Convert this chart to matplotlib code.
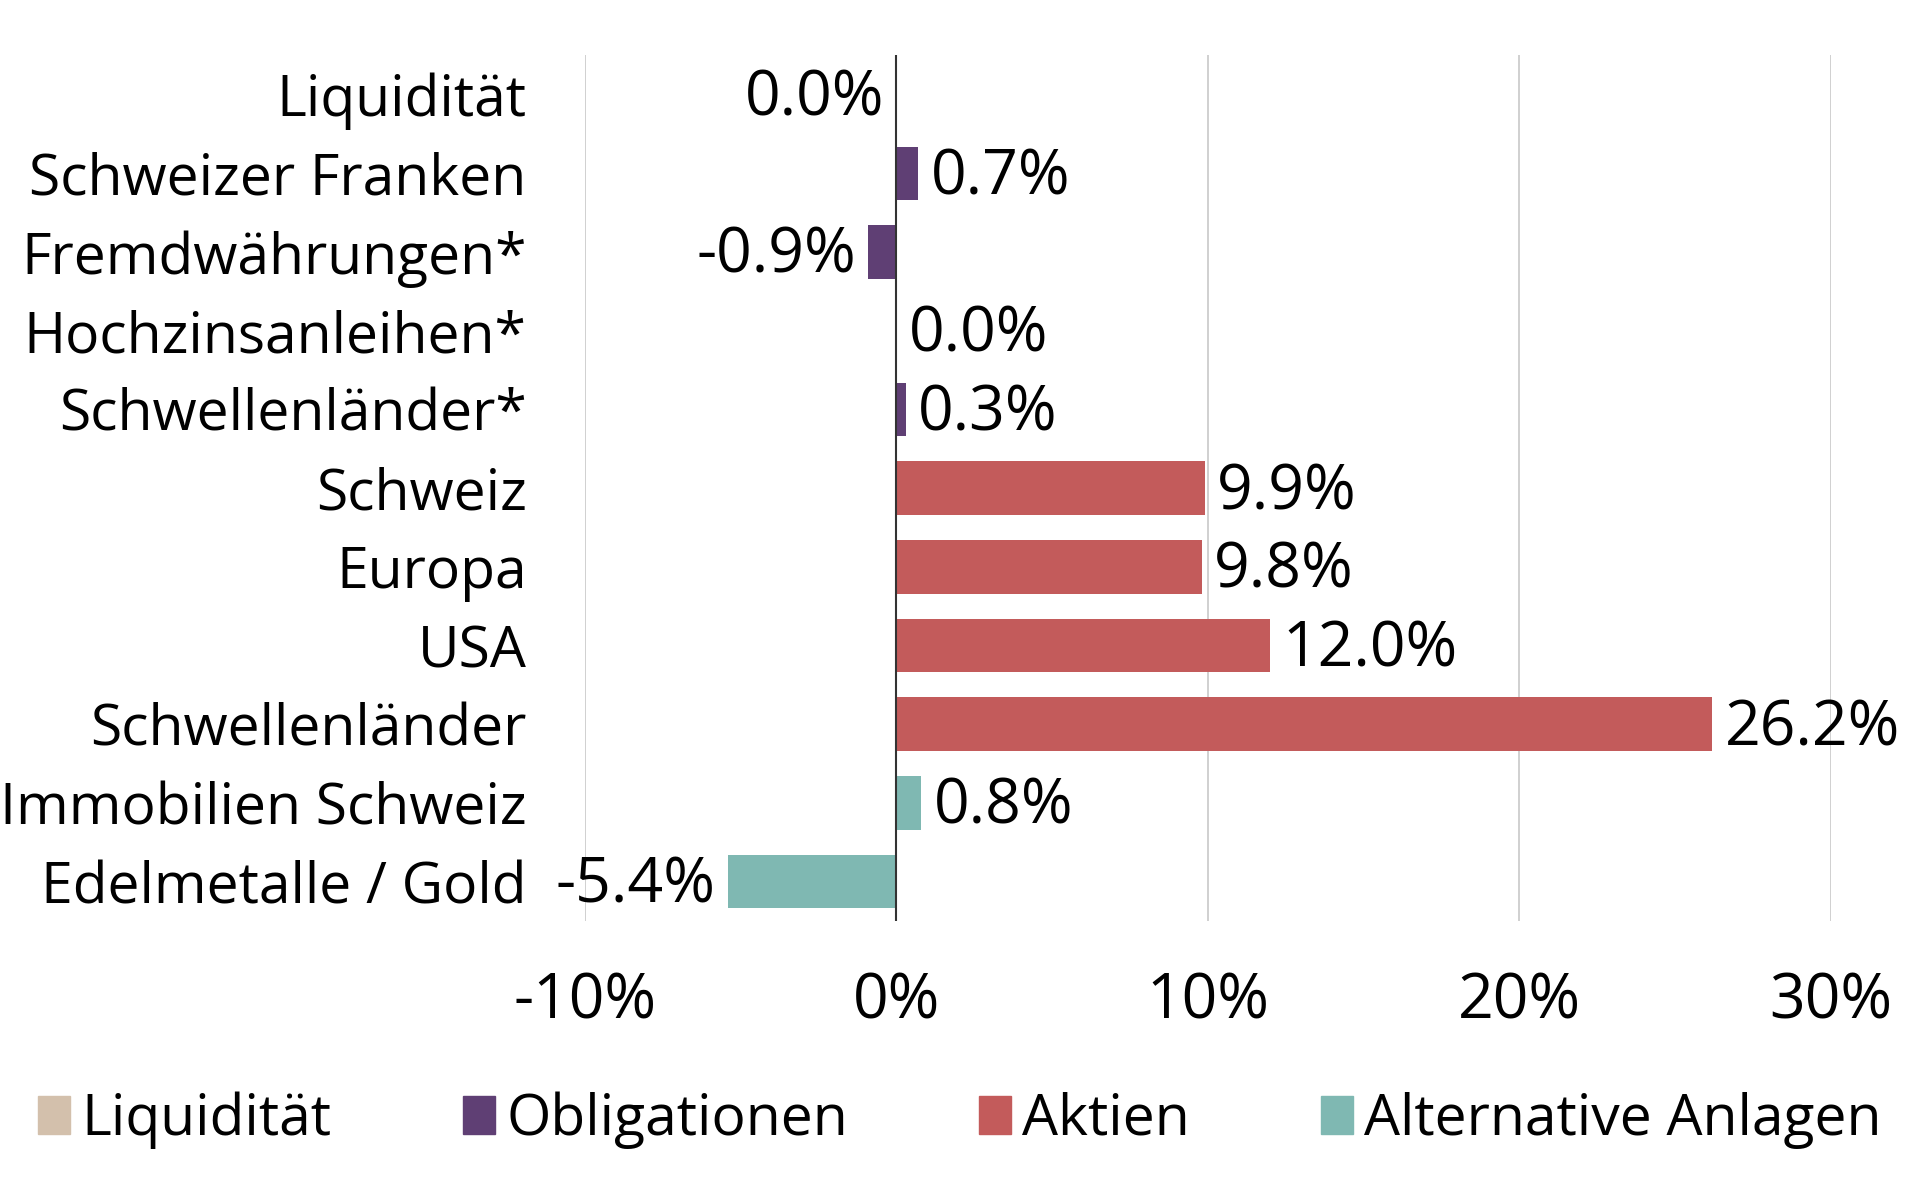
import numpy as np
import matplotlib.pyplot as plt
from matplotlib.patches import Patch

categories = ["Liquidität", "Schweizer Franken", "Fremdwährungen*", "Hochzinsanleihen*",
              "Schwellenländer*", "Schweiz", "Europa", "USA", "Schwellenländer",
              "Immobilien Schweiz", "Edelmetalle / Gold"]
values = [-0.0, 0.7, -0.9, 0.0, 0.3, 9.9, 9.8, 12.0, 26.2, 0.8, -5.4]
groups = ["Liquidität", "Obligationen", "Obligationen", "Obligationen", "Obligationen",
          "Aktien", "Aktien", "Aktien", "Aktien", "Alternative Anlagen", "Alternative Anlagen"]
group_names = ["Liquidität", "Obligationen", "Aktien", "Alternative Anlagen"]
group_colors = {"Liquidität": "#D3C0AC", "Obligationen": "#5F3F74",
                "Aktien": "#C35B5B", "Alternative Anlagen": "#7FB8B2"}
xticks = [-10, 0, 10, 20, 30]


def main():
    plt.rcParams['font.family'] = ['Open Sans', 'DejaVu Sans']
    fs = 41    # words
    fs_num = 45  # numbers

    fig = plt.figure(figsize=(19.2, 12), dpi=100)
    ax = fig.add_axes([0.3047, 0.2325, 0.6487, 0.7215])

    y = np.arange(len(categories))
    colors = [group_colors[g] for g in groups]
    ax.barh(y, values, height=0.68, color=colors, zorder=2)

    # value labels, negatives (incl. -0.0) go left of the bar
    for yi, v in zip(y, values):
        txt = f"{abs(v):.1f}%" if v == 0 else f"{v:.1f}%"
        if np.signbit(v):
            ax.text(v - 0.4, yi + 0.06, txt, ha="right", va="center", fontsize=fs_num)
        else:
            ax.text(v + 0.4, yi + 0.06, txt, ha="left", va="center", fontsize=fs_num)

    ax.set_ylim(len(categories) - 0.5, -0.5)
    ax.set_xlim(-10, 30)
    ax.set_yticks(y)
    ax.set_yticklabels(categories, fontsize=fs)
    ax.set_xticks(xticks)
    ax.set_xticklabels([f"{t}%" for t in xticks], fontsize=fs_num)
    ax.tick_params(axis="both", length=0)
    ax.tick_params(axis="x", pad=36)
    ax.tick_params(axis="y", pad=42)

    ax.grid(axis="x", color="#C8C8C8", linewidth=1.2, zorder=0)
    ax.axvline(0, color="#333333", linewidth=1.5, zorder=3)
    for s in ax.spines.values():
        s.set_visible(False)

    handles = [Patch(color=group_colors[g]) for g in group_names]
    fig.legend(handles, group_names, loc="lower center", bbox_to_anchor=(0.5, 0.0),
               ncol=4, frameon=False, fontsize=fs, handlelength=0.56, handleheight=0.65,
               handletextpad=0.2, columnspacing=2.3)

    fig.savefig("out.png", dpi=100)


if __name__ == "__main__":
    main()
